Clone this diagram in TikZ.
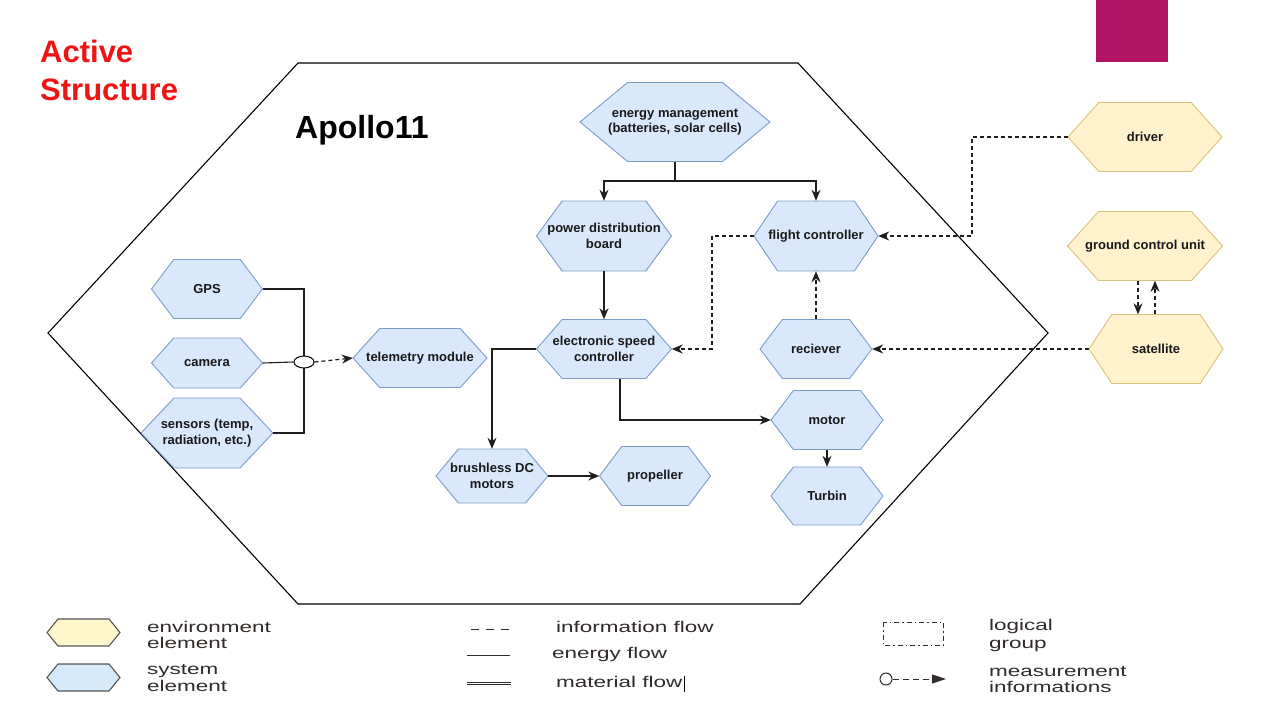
\documentclass[tikz,border=0pt]{standalone}
\usepackage{fontspec}
\setmainfont{Liberation Sans}
\newfontfamily\legfont[FakeStretch=1.45]{Liberation Sans}
\usetikzlibrary{arrows.meta,shapes.geometric,calc}
\definecolor{sysfill}{HTML}{DAE8FC}
\definecolor{sysline}{HTML}{7C9CC8}
\definecolor{envfill}{HTML}{FFF2CC}
\definecolor{envline}{HTML}{D9C27A}
\definecolor{legenv}{HTML}{FFF7CC}
\definecolor{legsys}{HTML}{D5E9F8}
\definecolor{legline}{HTML}{555555}
\definecolor{legtext}{HTML}{302B28}
\definecolor{titlered}{HTML}{EE1414}
\definecolor{magenta}{RGB}{176,18,100}
\definecolor{wire}{HTML}{1E1E1E}
\tikzset{
  sysstyle/.style={fill=sysfill,draw=sysline,line width=0.9pt},
  envstyle/.style={fill=envfill,draw=envline,line width=0.9pt},
  hextext/.style={draw=none,inner sep=0pt,align=center,text=black!90,
    font=\bfseries\fontsize{13}{15.5}\selectfont},
  energy/.style={draw=wire,line width=1.3pt},
  info/.style={draw=wire,line width=1.2pt,dash pattern=on 4pt off 3pt},
  tip/.style={-{Stealth[length=11pt,width=9pt,inset=3.5pt]}},
  legtxt/.style={anchor=base west,inner sep=0pt,text=legtext,
    font=\legfont\fontsize{15.5}{17}\selectfont},
}
\newcommand\hexnode[8]{%
  \path[#1] (#3-#5/2,#4) -- (#3-#5/2+#5*#7,#4-#6/2) -- (#3+#5/2-#5*#7,#4-#6/2)
     -- (#3+#5/2,#4) -- (#3+#5/2-#5*#7,#4+#6/2) -- (#3-#5/2+#5*#7,#4+#6/2) -- cycle;
  \node[hextext,minimum width=#5,minimum height=#6] (#2) at (#3,#4) {#8};
}
\begin{document}
\begin{tikzpicture}[x=1pt,y=-1pt]
\useasboundingbox (0,0) rectangle (1280,720);
\fill[white] (0,0) rectangle (1280,720);
% decoration
\fill[magenta] (1096,0) rectangle (1168,62);
\node[anchor=base west,inner sep=0pt,text=titlered,font=\bfseries\fontsize{31}{38}\selectfont] (t1) at (40,62) {Active};
\node[anchor=base west,inner sep=0pt,text=titlered,font=\bfseries\fontsize{31}{38}\selectfont] (t2) at (40,100) {Structure};
% system boundary
\draw[black,line width=1.1pt] (48,333) -- (298,63) -- (798,63) -- (1048,333) -- (800,604) -- (298,604) -- cycle;
\node[anchor=base west,inner sep=0pt,font=\bfseries\fontsize{32}{38}\selectfont] (title) at (295,138) {Apollo11};
% nodes
\hexnode{sysstyle}{em}{675}{122}{190}{79}{0.25}{energy management\\(batteries, solar cells)}
\hexnode{sysstyle}{pdb}{604}{236}{135}{70}{0.19}{power distribution\\board}
\hexnode{sysstyle}{fc}{816}{236}{124}{70}{0.19}{flight controller}
\hexnode{sysstyle}{esc}{604}{349}{135}{59}{0.19}{electronic speed\\controller}
\hexnode{sysstyle}{rec}{816}{349}{112}{59}{0.2}{reciever}
\hexnode{sysstyle}{tel}{420}{358}{134}{59}{0.2}{telemetry module}
\hexnode{sysstyle}{gps}{207}{289}{111}{59}{0.2}{GPS}
\hexnode{sysstyle}{cam}{207}{363}{111}{50}{0.2}{camera}
\hexnode{sysstyle}{sen}{207}{433}{132}{70}{0.25}{sensors (temp,\\radiation, etc.)}
\hexnode{sysstyle}{bdc}{492}{476}{112}{54}{0.2}{brushless DC\\motors}
\hexnode{sysstyle}{prop}{655}{476}{111}{59}{0.2}{propeller}
\hexnode{sysstyle}{mot}{827}{420}{112}{59}{0.2}{motor}
\hexnode{sysstyle}{tur}{827}{496}{112}{58}{0.2}{Turbin}
\hexnode{envstyle}{drv}{1145}{137}{154}{69}{0.2}{driver}
\hexnode{envstyle}{gcu}{1145}{246}{155}{69}{0.2}{ground control unit}
\hexnode{envstyle}{sat}{1156}{349}{134}{69}{0.17}{satellite}
% energy flows
\coordinate (emj) at (675,181);
\draw[energy] (em.south) -- (emj);
\draw[energy,tip] (emj) -| (pdb.north);
\draw[energy,tip] (emj) -| (fc.north);
\draw[energy,tip] (pdb.south) -- (esc.north);
\coordinate (escl) at (492,349);
\draw[energy,tip] (esc.west) -- (escl) -- (bdc.north);
\coordinate (escb) at ([xshift=16pt]esc.south);
\draw[energy,tip] (escb) |- (mot.west);
\draw[energy,tip] (mot.south) -- (tur.north);
\draw[energy,tip] (bdc.east) -- (prop.west);
% sensors bus
\coordinate (bt) at (304,289);
\coordinate (bb) at (304,433);
\draw[energy,line width=1.1pt] (gps.east) -- (bt) -- (bb) -- (sen.east);
\node[ellipse,draw=black,fill=white,line width=1pt,minimum width=20pt,minimum height=12pt,inner sep=0pt] (meas) at (304,362) {};
\draw[energy,line width=1.1pt] (cam.east) -- (meas.west);
\draw[info,tip] (meas.east) -- (tel.west);
% information flows
\coordinate (fcl) at (712,236);
\draw[info,tip] (fc.west) -- (fcl) |- (esc.east);
\draw[info,tip] (rec.north) -- (fc.south);
\coordinate (drl) at (972,137);
\draw[info,tip] (drv.west) -- (drl) |- (fc.east);
\draw[info,tip] (sat.west) -- (rec.east);
\coordinate (g1) at ([xshift=-7pt]gcu.south);
\draw[info,tip] (g1) -- (g1 |- sat.north);
\coordinate (s1) at ([xshift=-1pt]sat.north);
\draw[info,tip] (s1) -- (s1 |- gcu.south);
% legend
\path[fill=legenv,draw=legline,line width=1.1pt] (47,632.5) -- (58,619) -- (109,619) -- (120,632.5) -- (109,646) -- (58,646) -- cycle;
\path[fill=legsys,draw=legline,line width=1.1pt] (47,677.5) -- (58,664) -- (109,664) -- (120,677.5) -- (109,691) -- (58,691) -- cycle;
\node[legtxt] (l1a) at (147,632) {environment};
\node[legtxt] (l1b) at (147,648) {element};
\node[legtxt] (l2a) at (147,674) {system};
\node[legtxt] (l2b) at (147,691) {element};
\coordinate (i1) at (471,629);
\coordinate (i2) at (511,629);
\draw[legtext,line width=1pt,dash pattern=on 8pt off 7pt] (i1) -- (i2);
\node[legtxt] (l3) at (556,632) {information flow};
\coordinate (e1) at (467,655);
\coordinate (e2) at (510,655);
\draw[legtext,line width=1pt] (e1) -- (e2);
\node[legtxt] (l4) at (552,658) {energy flow};
\coordinate (m1) at (467,683.5);
\coordinate (m2) at (511,683.5);
\draw[legtext,line width=3.6pt] (m1) -- (m2);
\draw[white,line width=1.3pt] (m1) -- (m2);
\node[legtxt] (l5) at (556,687) {material flow};
\coordinate (c1) at (684,676);
\coordinate (c2) at (684,692);
\draw[black,line width=1pt] (c1) -- (c2);
\draw[legtext,line width=1pt,dash pattern=on 5pt off 3pt on 1.5pt off 3pt] (883,622) rectangle (943,645);
\node[legtxt] (l6a) at (989,630) {logical};
\node[legtxt] (l6b) at (989,648) {group};
\node[circle,draw=legtext,line width=1pt,minimum size=12pt,inner sep=0pt] (lc) at (886,679) {};
\coordinate (la) at (946,679);
\draw[legtext,line width=1pt,dash pattern=on 6pt off 4pt,-{Triangle[length=14pt,width=9pt]}] (lc.east) -- (la);
\node[legtxt] (l7a) at (989,676) {measurement};
\node[legtxt] (l7b) at (989,692) {informations};
\end{tikzpicture}
\end{document}
